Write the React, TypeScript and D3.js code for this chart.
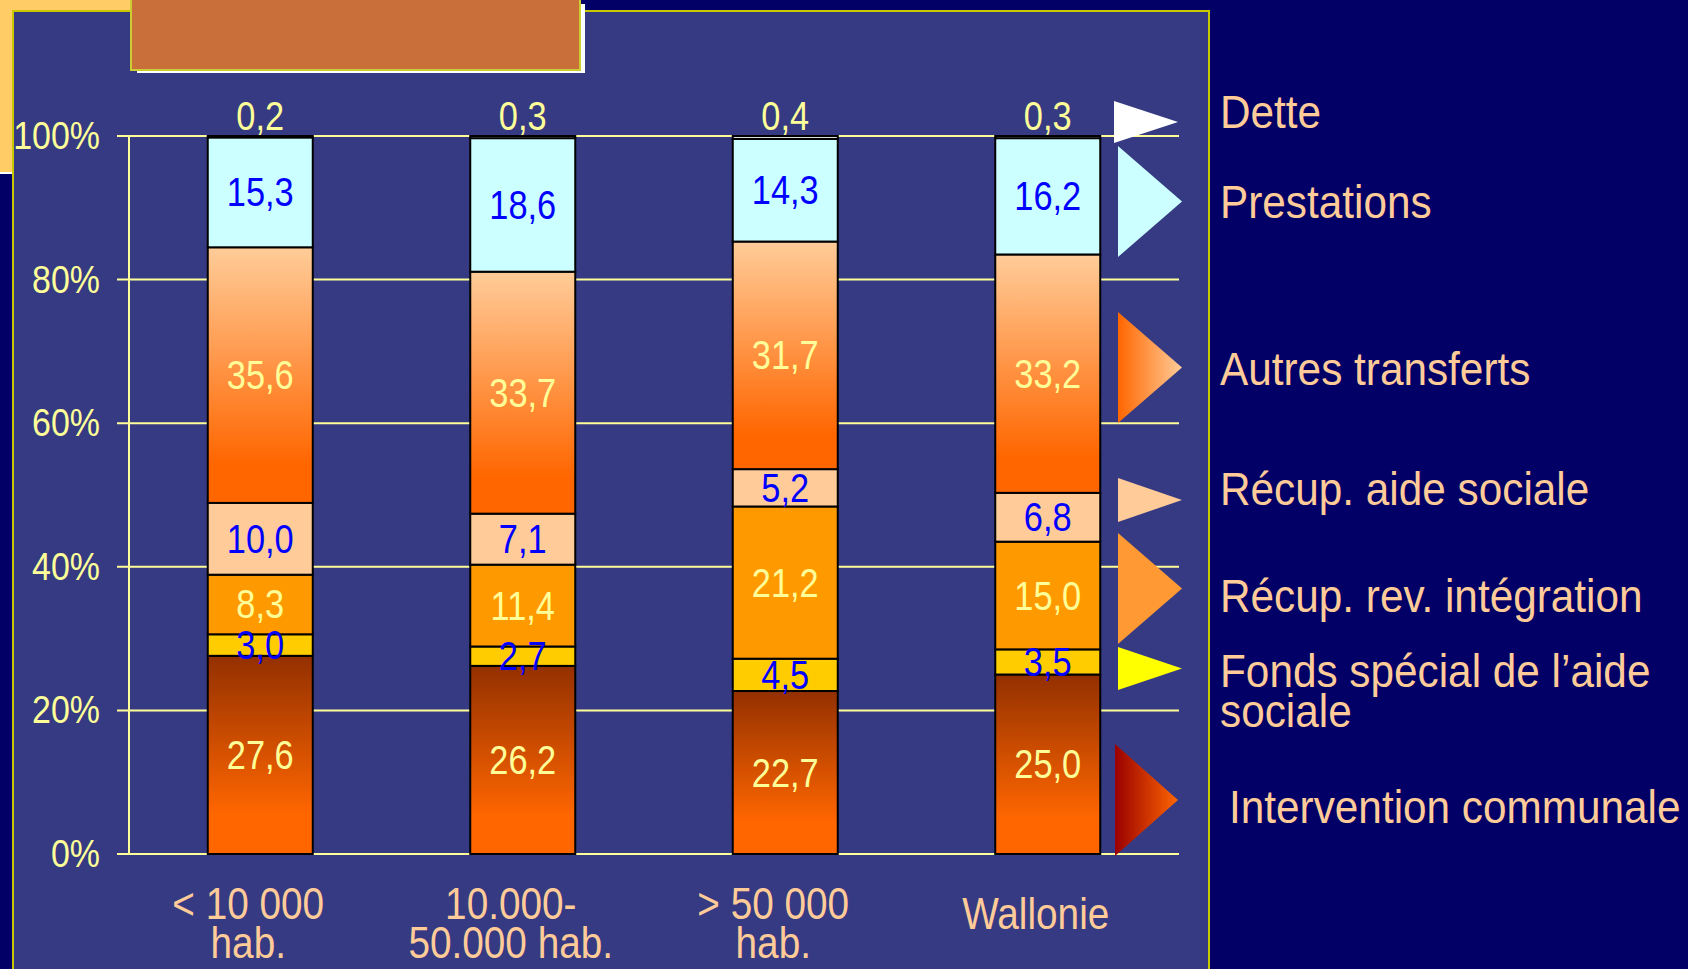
import * as d3 from "d3";
import { useEffect, useRef } from "react";

// categories (two-line labels) and the seven stacked series, bottom to top
const categories = [["< 10 000", "hab."], ["10.000-", "50.000 hab."], ["> 50 000", "hab."], ["Wallonie"]];
const intervention = [27.6, 26.2, 22.7, 25.0];
const fondsSpecial = [3.0, 2.7, 4.5, 3.5];
const recupRevIntegration = [8.3, 11.4, 21.2, 15.0];
const recupAideSociale = [10.0, 7.1, 5.2, 6.8];
const autresTransferts = [35.6, 33.7, 31.7, 33.2];
const prestations = [15.3, 18.6, 14.3, 16.2];
const dette = [0.2, 0.3, 0.4, 0.3];
const yTicks = [0, 20, 40, 60, 80, 100];

const keys = ["intervention", "fonds", "recupRev", "recupAide", "autres", "prestations", "dette"];
const legendNames = [
    ["Intervention communale"],
    ["Fonds spécial de l’aide", "sociale"],
    ["Récup. rev. intégration"],
    ["Récup. aide sociale"],
    ["Autres transferts"],
    ["Prestations"],
    ["Dette"],
];

const W = 1688;
const H = 969;
const FONT = "'Liberation Sans', Arial, sans-serif";

// styles per series
const barFill = ["url(#gInter)", "#FFCC00", "#FF9900", "#FFCC99", "url(#gAutres)", "#CCFFFF", "#FFFFFF"];
const legendFill = ["url(#lInter)", "#FFFF00", "#FF9933", "#FFCC99", "url(#lAutres)", "#CCFFFF", "#FFFFFF"];
const labelColor = ["#FFFF99", "#0000FF", "#FFFF99", "#0000FF", "#FFFF99", "#0000FF", "#FFFF99"];

// legend layout: triangle x0, x tip, top, bottom; text baselines
const legendLayout = [
    { x0: 1115, x1: 1178, top: 744, bottom: 856, tx: 1229, ty: [823] },
    { x0: 1118, x1: 1182, top: 647, bottom: 690, tx: 1220, ty: [687, 727] },
    { x0: 1118, x1: 1182, top: 533, bottom: 644, tx: 1220, ty: [612] },
    { x0: 1118, x1: 1182, top: 478, bottom: 522, tx: 1220, ty: [505] },
    { x0: 1118, x1: 1182, top: 312, bottom: 423, tx: 1220, ty: [385] },
    { x0: 1118, x1: 1182, top: 146, bottom: 257, tx: 1220, ty: [218] },
    { x0: 1114, x1: 1178, top: 101, bottom: 143, tx: 1220, ty: [128] },
];

const App = () => {
    const ref = useRef(null);

    useEffect(() => {
        document.body.style.margin = "0";
        const svg = d3.select(ref.current);
        svg.selectAll("*").remove();

        const table = categories.map((c, i) => ({
            idx: String(i),
            intervention: intervention[i],
            fonds: fondsSpecial[i],
            recupRev: recupRevIntegration[i],
            recupAide: recupAideSociale[i],
            autres: autresTransferts[i],
            prestations: prestations[i],
            dette: dette[i],
        }));
        const stacked = d3.stack().keys(keys)(table as any);

        const x = d3.scaleBand().domain(table.map(d => d.idx)).range([129, 1179]).paddingInner(0.6).paddingOuter(0.3);
        const y = d3.scaleLinear().domain([0, 100]).range([854, 136]);

        const text = (g, tx, ty, str, size, fill, anchor, sx) =>
            g.append("text")
                .attr("transform", `translate(${tx},${ty}) scale(${sx},1)`)
                .attr("text-anchor", anchor)
                .attr("font-family", FONT)
                .attr("font-size", size)
                .attr("fill", fill)
                .text(str);

        // gradients
        const defs = svg.append("defs");
        const grad = (id, x2, y2, stops) => {
            const lg = defs.append("linearGradient").attr("id", id)
                .attr("x1", 0).attr("y1", 0).attr("x2", x2).attr("y2", y2);
            stops.forEach(([o, c]) => lg.append("stop").attr("offset", o).attr("stop-color", c));
        };
        grad("gInter", 0, 1, [[0, "#933000"], [0.8, "#FF6600"], [1, "#FF6600"]]);
        grad("gAutres", 0, 1, [[0, "#FFCC99"], [0.85, "#FF6600"], [1, "#FF6600"]]);
        grad("lInter", 1, 0, [[0, "#990000"], [1, "#FF6600"]]);
        grad("lAutres", 1, 0, [[0, "#FF6600"], [1, "#FFCC99"]]);

        // background pieces
        svg.append("rect").attr("width", W).attr("height", H).attr("fill", "#020066");
        svg.append("rect").attr("x", 0).attr("y", 0).attr("width", 300).attr("height", 174).attr("fill", "#FFFFFF");
        svg.append("rect").attr("x", 0).attr("y", 0).attr("width", 300).attr("height", 172).attr("fill", "#FFCC66");
        svg.append("rect")
            .attr("x", 13).attr("y", 11).attr("width", 1196).attr("height", H)
            .attr("fill", "#363A82").attr("stroke", "#C8C800").attr("stroke-width", 2);
        // title box (its text is cut off above the frame)
        svg.append("rect").attr("x", 137).attr("y", 4).attr("width", 448).attr("height", 69).attr("fill", "#FFFFFF");
        svg.append("rect")
            .attr("x", 131).attr("y", -4).attr("width", 449).attr("height", 74)
            .attr("fill", "#C86F3A").attr("stroke", "#CCCC33").attr("stroke-width", 2);

        // grid and axis
        const grid = svg.append("g");
        yTicks.forEach(t => {
            grid.append("line")
                .attr("x1", 117).attr("x2", 1179).attr("y1", y(t)).attr("y2", y(t))
                .attr("stroke", "#FFFF99").attr("stroke-width", 2);
            text(grid, 100, y(t) + 13, `${t}%`, 39, "#FFFF99", "end", 0.87);
        });
        grid.append("line")
            .attr("x1", 129).attr("x2", 129).attr("y1", y(100)).attr("y2", y(0))
            .attr("stroke", "#FFFF99").attr("stroke-width", 2);

        // bars
        const bars = svg.append("g");
        stacked.forEach((layer, si) => {
            layer.forEach(d => {
                bars.append("rect")
                    .attr("x", x(d.data.idx))
                    .attr("y", y(d[1]))
                    .attr("width", x.bandwidth())
                    .attr("height", y(d[0]) - y(d[1]))
                    .attr("fill", barFill[si])
                    .attr("stroke", "#000000")
                    .attr("stroke-width", 2);
            });
        });

        // value labels
        const fmt = v => v.toFixed(1).replace(".", ",");
        stacked.forEach((layer, si) => {
            layer.forEach(d => {
                const cx = x(d.data.idx) + x.bandwidth() / 2;
                const v = d[1] - d[0];
                const ty = keys[si] === "dette" ? y(d[1]) - 6 : y((d[0] + d[1]) / 2) + 14;
                text(bars, cx, ty, fmt(v), 40, labelColor[si], "middle", 0.86);
            });
        });

        // category labels
        categories.forEach((lines, i) => {
            const cx = x(String(i)) + x.bandwidth() / 2 - 12;
            lines.forEach((ln, j) => {
                const ty = lines.length === 1 ? 929 : 919 + j * 39;
                text(svg, cx, ty, ln, 44, "#FFCC99", "middle", 0.88);
            });
        });

        // legend
        const leg = svg.append("g");
        legendLayout.forEach((l, i) => {
            const mid = (l.top + l.bottom) / 2;
            leg.append("path")
                .attr("d", `M${l.x0},${l.top}L${l.x1},${mid}L${l.x0},${l.bottom}Z`)
                .attr("fill", legendFill[i]);
            legendNames[i].forEach((ln, j) => text(leg, l.tx, l.ty[j], ln, 46, "#FFCC99", "start", 0.92));
        });
    }, []);

    return (
        <svg ref={ref} width={W} height={H} style={{ display: "block", overflow: "hidden" }}></svg>
    );
};

export default App;
